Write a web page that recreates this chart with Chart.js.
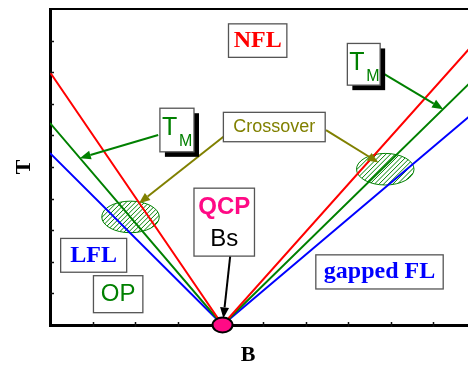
<!DOCTYPE html>
<html>
<head>
<meta charset="utf-8">
<script src="https://cdn.jsdelivr.net/npm/chart.js@4/dist/chart.umd.min.js"></script>
<style>
  html, body { margin: 0; padding: 0; background: #fff; overflow: hidden; }
  #wrap { width: 468px; height: 365px; overflow: hidden; position: relative; }
  canvas { display: block; }
</style>
</head>
<body>
<div id="wrap"><canvas id="c" width="476" height="365"></canvas></div>
<script>
// Field values (B) where each crossover line is sampled; the middle point is the QCP.
const fieldB = [0, 4.05, 10];
// Temperature scales along the field axis
const tNFL = [8.0, 0, 8.98];   // upper crossover (NFL boundary)
const tM   = [6.39, 0, 7.85];  // T_M line
const tGap = [5.44, 0, 6.78];  // lower boundary (LFL / gapped FL)

// Hatched crossover regions (centre in data units, radii in data units)
const crossoverB = [1.89, 7.87];
const crossoverT = [3.42, 4.93];
const crossoverRB = 0.675;
const crossoverRT = 0.5;

// Quantum critical point
const qcpB = 4.05;
const qcpT = 0;

const sans = '"Liberation Sans", Arial, sans-serif';
const serif = '"Liberation Serif", "Times New Roman", serif';

// Framed labels, in data units
const labelBoxes = [
  { x0: 4.19, x1: 5.56, y0: 9.53, y1: 8.47,
    rows: [{ text: 'NFL', font: 'bold 24px ' + serif, color: '#ff0000', at: 0.5 }] },
  { x0: 4.07, x1: 6.46, y0: 6.73, y1: 5.80,
    rows: [{ text: 'Crossover', font: '18px ' + sans, color: '#808000', at: 0.5 }] },
  { x0: 3.38, x1: 4.80, y0: 4.33, y1: 2.18,
    rows: [{ text: 'QCP', font: 'bold 24px ' + sans, color: '#ff0a85', at: 0.28 },
           { text: 'Bs', font: '24px ' + sans, color: '#000000', at: 0.75 }] },
  { x0: 0.25, x1: 1.80, y0: 2.74, y1: 1.67,
    rows: [{ text: 'LFL', font: 'bold 24px ' + serif, color: '#0000ff', at: 0.5 }] },
  { x0: 1.02, x1: 2.18, y0: 1.56, y1: 0.39,
    rows: [{ text: 'OP', font: '24px ' + sans, color: '#008000', at: 0.5 }] },
  { x0: 6.24, x1: 9.23, y0: 2.22, y1: 1.14,
    rows: [{ text: 'gapped FL', font: 'bold 24px ' + serif, color: '#0000ff', at: 0.5 }] }
];

// T_M labels with a drop shadow
const tmBoxes = [
  { x0: 2.58, x1: 3.38, y0: 6.86, y1: 5.48 },
  { x0: 6.98, x1: 7.75, y0: 8.91, y1: 7.59 }
];

// Pointer arrows, from -> tip, in data units
const arrows = [
  { from: [2.54, 6.01], to: [0.70, 5.28], color: '#008000' },
  { from: [7.75, 8.02], to: [9.23, 6.83], color: '#008000' },
  { from: [4.07, 5.96], to: [2.09, 3.85], color: '#808000' },
  { from: [6.48, 6.17], to: [7.71, 5.14], color: '#808000' },
  { from: [4.23, 2.18], to: [4.07, 0.21], color: '#000000' }
];

// Field-axis title position along B
const fieldTitleB = 4.65;

function toPts(ys) { return fieldB.map((b, i) => ({ x: b, y: ys[i] })); }

function drawArrow(ctx, x1, y1, x2, y2, color) {
  const ang = Math.atan2(y2 - y1, x2 - x1);
  const headLen = 11, headHalf = 4.5;
  const bx = x2 - headLen * Math.cos(ang), by = y2 - headLen * Math.sin(ang);
  ctx.save();
  ctx.strokeStyle = color; ctx.fillStyle = color; ctx.lineWidth = 2;
  ctx.beginPath(); ctx.moveTo(x1, y1); ctx.lineTo(bx, by); ctx.stroke();
  ctx.beginPath();
  ctx.moveTo(x2, y2);
  ctx.lineTo(bx + headHalf * Math.sin(ang), by - headHalf * Math.cos(ang));
  ctx.lineTo(bx - headHalf * Math.sin(ang), by + headHalf * Math.cos(ang));
  ctx.closePath(); ctx.fill();
  ctx.restore();
}

function frame(ctx, l, t, r, b) {
  ctx.fillStyle = '#ffffff';
  ctx.fillRect(l, t, r - l, b - t);
  ctx.strokeStyle = '#555555'; ctx.lineWidth = 1.3;
  ctx.strokeRect(l, t, r - l, b - t);
}

// Hatched crossover ellipses, drawn under the lines
const hatchPlugin = {
  id: 'hatch',
  beforeDatasetsDraw(chart) {
    const { ctx, scales: { x, y } } = chart;
    crossoverB.forEach((b, i) => {
      const cx = x.getPixelForValue(b), cy = y.getPixelForValue(crossoverT[i]);
      const rx = x.getPixelForValue(b + crossoverRB) - cx;
      const ry = cy - y.getPixelForValue(crossoverT[i] + crossoverRT);
      ctx.save();
      ctx.beginPath(); ctx.ellipse(cx, cy, rx, ry, 0, 0, Math.PI * 2);
      ctx.fillStyle = '#ffffff'; ctx.fill();
      ctx.clip();
      ctx.strokeStyle = '#008000'; ctx.lineWidth = 1;
      for (let d = -rx - ry * 2; d < rx + ry * 2; d += 4.6) {
        ctx.beginPath();
        ctx.moveTo(cx + d - ry * 1.2, cy + ry * 1.2);
        ctx.lineTo(cx + d + ry * 1.2, cy - ry * 1.2);
        ctx.stroke();
      }
      ctx.restore();
      ctx.save();
      ctx.beginPath(); ctx.ellipse(cx, cy, rx, ry, 0, 0, Math.PI * 2);
      ctx.strokeStyle = '#008000'; ctx.lineWidth = 1; ctx.stroke();
      ctx.restore();
    });
  }
};

// Inward tick marks, axis title B, labels, arrows and the QCP marker
const overlayPlugin = {
  id: 'overlay',
  afterDraw(chart) {
    const { ctx, chartArea: a, scales: { x, y } } = chart;
    ctx.save();
    ctx.strokeStyle = '#111'; ctx.lineWidth = 1.5;
    for (let v = 1; v < 10; v++) {
      const py = Math.round(y.getPixelForValue(v)) + 0.5;
      ctx.beginPath(); ctx.moveTo(a.left, py); ctx.lineTo(a.left + 4, py); ctx.stroke();
      const pxv = Math.round(x.getPixelForValue(v)) + 0.5;
      ctx.beginPath(); ctx.moveTo(pxv, a.bottom + 2); ctx.lineTo(pxv, a.bottom - 3); ctx.stroke();
    }
    ctx.restore();

    ctx.save();
    ctx.font = 'bold 22px ' + serif; ctx.fillStyle = '#000';
    ctx.textAlign = 'center'; ctx.textBaseline = 'middle';
    ctx.fillText('B', x.getPixelForValue(fieldTitleB), a.bottom + 30);
    ctx.restore();

    arrows.forEach(ar => drawArrow(ctx,
      x.getPixelForValue(ar.from[0]), y.getPixelForValue(ar.from[1]),
      x.getPixelForValue(ar.to[0]), y.getPixelForValue(ar.to[1]), ar.color));

    ctx.save();
    labelBoxes.forEach(bx => {
      const l = x.getPixelForValue(bx.x0), r = x.getPixelForValue(bx.x1);
      const t = y.getPixelForValue(bx.y0), b = y.getPixelForValue(bx.y1);
      frame(ctx, l, t, r, b);
      bx.rows.forEach(row => {
        ctx.font = row.font; ctx.fillStyle = row.color;
        ctx.textAlign = 'center'; ctx.textBaseline = 'middle';
        ctx.fillText(row.text, (l + r) / 2, t + (b - t) * row.at);
      });
    });

    tmBoxes.forEach(bx => {
      const l = x.getPixelForValue(bx.x0), r = x.getPixelForValue(bx.x1);
      const t = y.getPixelForValue(bx.y0), b = y.getPixelForValue(bx.y1);
      ctx.fillStyle = '#000';
      ctx.fillRect(l + 5, t + 5, r - l, b - t);
      frame(ctx, l, t, r, b);
      ctx.fillStyle = '#008000';
      ctx.textAlign = 'left'; ctx.textBaseline = 'alphabetic';
      ctx.font = '25px ' + sans;
      ctx.fillText('T', l + 2, t + 27);
      ctx.font = '16px ' + sans;
      ctx.fillText('M', l + 19, t + 37.5);
    });
    ctx.restore();

    // QCP marker
    const qx = x.getPixelForValue(qcpB), qy = y.getPixelForValue(qcpT);
    ctx.save();
    ctx.beginPath(); ctx.ellipse(qx, qy, 10, 7.5, 0, 0, Math.PI * 2);
    ctx.fillStyle = '#ff0a85'; ctx.fill();
    ctx.strokeStyle = '#000'; ctx.lineWidth = 2; ctx.stroke();
    ctx.restore();
  }
};

const lineStyle = { showLine: true, pointRadius: 0, borderWidth: 2, fill: false, tension: 0 };

new Chart(document.getElementById('c'), {
  type: 'scatter',
  data: {
    datasets: [
      Object.assign({ label: 'NFL', data: toPts(tNFL), borderColor: '#ff0000' }, lineStyle),
      Object.assign({ label: 'T_M', data: toPts(tM), borderColor: '#008000' }, lineStyle),
      Object.assign({ label: 'gap', data: toPts(tGap), borderColor: '#0000ff' }, lineStyle)
    ]
  },
  options: {
    responsive: false,
    animation: false,
    events: [],
    layout: { padding: { top: 9, left: 0, right: 0, bottom: 0 } },
    plugins: { legend: { display: false }, tooltip: { enabled: false } },
    scales: {
      x: {
        type: 'linear', position: 'bottom', min: 0, max: 10,
        grid: { display: false },
        border: { display: true, width: 3, color: '#000' },
        ticks: { display: false, stepSize: 1 },
        title: { display: false },
        afterFit(s) { s.height = 40; }
      },
      xTop: {
        type: 'linear', position: 'top', min: 0, max: 10,
        grid: { display: false },
        border: { display: true, width: 2, color: '#000' },
        ticks: { display: false },
        afterFit(s) { s.height = 0; }
      },
      y: {
        type: 'linear', position: 'left', min: 0, max: 10,
        grid: { display: false },
        border: { display: true, width: 3, color: '#000' },
        ticks: { display: false, stepSize: 1 },
        title: { display: true, text: 'T', color: '#000', padding: { top: 13, bottom: 0 },
                 font: { family: 'Liberation Serif', size: 22, weight: 'bold', lineHeight: 1 } },
        afterFit(s) { s.width = 50; }
      }
    }
  },
  plugins: [hatchPlugin, overlayPlugin]
});
</script>
</body>
</html>
